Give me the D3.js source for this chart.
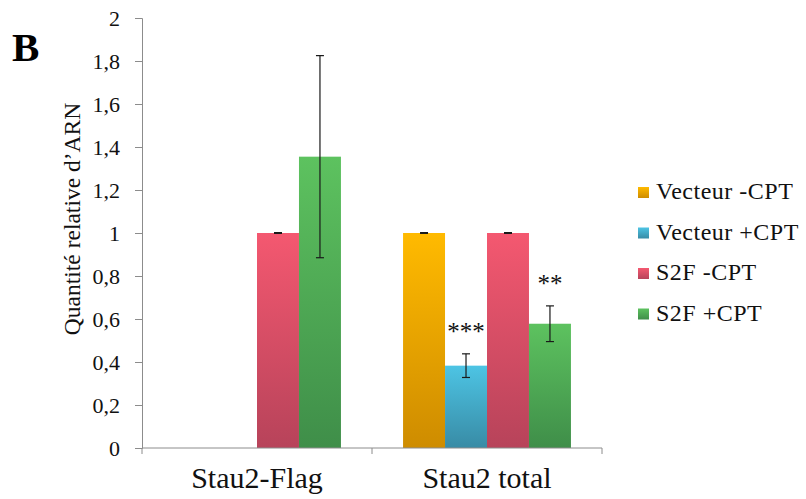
<!DOCTYPE html>
<html><head><meta charset="utf-8">
<script src="https://cdn.jsdelivr.net/npm/d3@7"></script>
<style>body{margin:0;background:#fff}svg{display:block}
svg text{font-family:"Liberation Serif","Times New Roman",Tinos,"DejaVu Serif",serif;}</style>
</head><body>
<svg id="c" width="806" height="499"></svg>
<script>
const categories = ["Stau2-Flag", "Stau2 total"];
const seriesNames = ["Vecteur -CPT", "Vecteur +CPT", "S2F -CPT", "S2F +CPT"];
const vecteurMinus = [null, 1];
const vecteurPlus = [null, 0.383];
const s2fMinus = [1, 1];
const s2fPlus = [1.355, 0.578];
const errVecteurMinus = [null, 0.002];
const errVecteurPlus = [null, 0.055];
const errS2fMinus = [0.002, 0.002];
const errS2fPlus = [0.47, 0.083];
const significance = [["", "", "", ""], ["", "***", "", "**"]];
const yTicks = [0, 0.2, 0.4, 0.6, 0.8, 1, 1.2, 1.4, 1.6, 1.8, 2];
const colorsTop = ["#FFBA00", "#4DC4E4", "#F45870", "#5DC25F"];
const colorsBottom = ["#CE8C00", "#388BA5", "#B7435A", "#3F8E49"];

const values = [vecteurMinus, vecteurPlus, s2fMinus, s2fPlus];
const errors = [errVecteurMinus, errVecteurPlus, errS2fMinus, errS2fPlus];

const svg = d3.select("#c");
const mLeft = 142, mRight = 602, mTop = 18, mBottom = 448;

const y = d3.scaleLinear().domain([0, 2]).range([mBottom, mTop]);
const x0 = d3.scaleBand().domain(categories).range([mLeft, mRight]).padding(0);
const gap = x0.bandwidth() * 0.135;
const x1 = d3.scaleBand().domain(seriesNames).range([gap, x0.bandwidth() - gap]).padding(0);

const defs = svg.append("defs");
seriesNames.forEach((s, i) => {
  const g = defs.append("linearGradient").attr("id", "g" + i)
    .attr("x1", 0).attr("y1", 0).attr("x2", 0).attr("y2", 1);
  g.append("stop").attr("offset", "0%").attr("stop-color", colorsTop[i]);
  g.append("stop").attr("offset", "100%").attr("stop-color", colorsBottom[i]);
});

// y axis
const yAxis = svg.append("g").attr("transform", `translate(${mLeft},0)`)
  .call(d3.axisLeft(y).tickValues(yTicks).tickSize(7).tickPadding(15)
    .tickFormat(d => d3.format(".1~f")(d).replace(".", ",")));
yAxis.attr("font-family", null);
yAxis.selectAll("line, path").attr("stroke", "#8c8c8c");
yAxis.selectAll("text").attr("font-size", 22).attr("fill", "#111");

// bars
const rows = [];
categories.forEach((c, ci) => seriesNames.forEach((s, si) => {
  if (values[si][ci] != null) rows.push({c, s, si, v: values[si][ci], e: errors[si][ci], sig: significance[ci][si]});
}));
const gBars = svg.append("g");
gBars.selectAll("rect").data(rows).join("rect")
  .attr("x", d => x0(d.c) + x1(d.s))
  .attr("width", x1.bandwidth())
  .attr("y", d => y(d.v))
  .attr("height", d => y(0) - y(d.v))
  .attr("fill", d => `url(#g${d.si})`);

// error bars
const eb = svg.append("g").attr("stroke", "#1a1a1a").attr("stroke-width", 1.2);
rows.forEach(d => {
  const cx = x0(d.c) + x1(d.s) + x1.bandwidth() / 2;
  eb.append("line").attr("x1", cx).attr("x2", cx).attr("y1", y(d.v + d.e)).attr("y2", y(d.v - d.e));
  [d.v + d.e, d.v - d.e].forEach(v => eb.append("line").attr("x1", cx - 4).attr("x2", cx + 4).attr("y1", y(v)).attr("y2", y(v)));
  if (d.sig) {
    svg.append("text").attr("x", cx).attr("y", y(d.v + d.e) - 14)
      .attr("text-anchor", "middle").attr("font-size", 25)
      .attr("fill", "#111").text(d.sig);
  }
});

// x axis
const xAxis = svg.append("g").attr("transform", `translate(0,${mBottom})`);
xAxis.append("line").attr("x1", mLeft).attr("x2", mRight).attr("stroke", "#8c8c8c");
xAxis.selectAll("line.t").data([mLeft, ...categories.map(c => x0(c) + x0.bandwidth())]).join("line")
  .attr("class", "t").attr("x1", d => d).attr("x2", d => d).attr("y1", 0).attr("y2", 6).attr("stroke", "#8c8c8c");
xAxis.selectAll("text").data(categories).join("text")
  .attr("x", d => x0(d) + x0.bandwidth() / 2).attr("y", 40)
  .attr("text-anchor", "middle").attr("font-size", 30).attr("fill", "#111")
  .text(d => d);

// y label
svg.append("text").attr("transform", "translate(80,219) rotate(-90)")
  .attr("text-anchor", "middle").attr("font-size", 23.5).attr("fill", "#111")
  .text("Quantité relative d’ARN");

// panel letter
svg.append("text").attr("x", 12).attr("y", 61)
  .attr("font-size", 41).attr("font-weight", "bold").attr("fill", "#000").text("B");

// legend
const lg = svg.append("g");
seriesNames.forEach((s, i) => {
  const yy = 192 + i * 40.5;
  lg.append("rect").attr("x", 638).attr("y", yy - 5).attr("width", 11).attr("height", 11).attr("fill", `url(#g${i})`);
  lg.append("text").attr("x", 656).attr("y", yy + 7).attr("font-size", 24).attr("letter-spacing", 0.5)
    .attr("fill", "#111").text(s);
});
</script>
</body></html>
